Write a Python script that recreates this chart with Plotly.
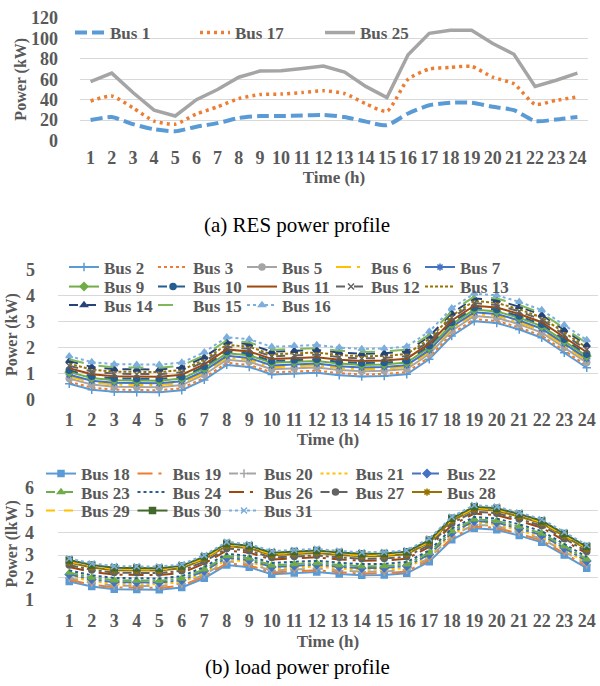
import plotly.graph_objects as go

W, H = 600, 686

hours = ["1", "2", "3", "4", "5", "6", "7", "8", "9", "10", "11", "12",
         "13", "14", "15", "16", "17", "18", "19", "20", "21", "22", "23", "24"]

# ---------- (a) RES power profile ----------
res_bus1 = [20, 23, 16, 11, 9, 13.5, 17, 22, 24, 24, 24.5, 25, 23, 18.5, 15, 26.5, 34.5, 37, 37, 33, 29.7, 19, 20.6, 23]
res_bus17 = [38.7, 43.5, 32, 19, 16, 26, 33, 41, 45, 45.5, 47, 48.7, 46, 36, 28.7, 60, 70, 71.6, 72.6, 62, 55.5, 35.5, 39.4, 42.6]
res_bus25 = [57.7, 66, 47, 29.7, 24, 40, 50, 62, 68, 68.4, 70.6, 73, 67, 53, 42, 84, 105, 108, 108, 95, 84.5, 53, 59, 66]

# ---------- (b) load power profile, upper panel ----------
load_b2 = [0.60, 0.37, 0.29, 0.27, 0.27, 0.35, 0.75, 1.33, 1.25, 0.96, 1.00, 1.03, 0.93, 0.88, 0.90, 0.97, 1.55, 2.45, 3.02, 2.95, 2.70, 2.38, 1.80, 1.22]
load_b3 = [0.68, 0.45, 0.37, 0.35, 0.35, 0.43, 0.83, 1.41, 1.33, 1.04, 1.08, 1.11, 1.01, 0.96, 0.98, 1.05, 1.63, 2.53, 3.10, 3.03, 2.78, 2.46, 1.88, 1.30]
load_b5 = [0.80, 0.57, 0.49, 0.47, 0.47, 0.55, 0.95, 1.53, 1.45, 1.16, 1.20, 1.23, 1.13, 1.08, 1.10, 1.17, 1.75, 2.65, 3.22, 3.15, 2.90, 2.58, 2.00, 1.42]
load_b6 = [0.88, 0.65, 0.57, 0.55, 0.55, 0.63, 1.03, 1.61, 1.53, 1.24, 1.28, 1.31, 1.21, 1.16, 1.18, 1.25, 1.83, 2.73, 3.30, 3.23, 2.98, 2.66, 2.08, 1.50]
load_b7 = [0.95, 0.72, 0.64, 0.62, 0.62, 0.70, 1.10, 1.68, 1.60, 1.31, 1.35, 1.38, 1.28, 1.23, 1.25, 1.32, 1.90, 2.80, 3.37, 3.30, 3.05, 2.73, 2.15, 1.57]
load_b9 = [1.05, 0.82, 0.74, 0.72, 0.72, 0.80, 1.20, 1.78, 1.70, 1.41, 1.45, 1.48, 1.38, 1.33, 1.35, 1.42, 2.00, 2.90, 3.47, 3.40, 3.15, 2.83, 2.25, 1.67]
load_b10 = [1.12, 0.89, 0.81, 0.79, 0.79, 0.87, 1.27, 1.85, 1.77, 1.48, 1.52, 1.55, 1.45, 1.40, 1.42, 1.49, 2.07, 2.97, 3.54, 3.47, 3.22, 2.90, 2.32, 1.74]
load_b11 = [1.20, 0.97, 0.89, 0.87, 0.87, 0.95, 1.35, 1.93, 1.85, 1.56, 1.60, 1.63, 1.53, 1.48, 1.50, 1.57, 2.15, 3.05, 3.62, 3.55, 3.30, 2.98, 2.40, 1.82]
load_b12 = [1.30, 1.07, 0.99, 0.97, 0.97, 1.05, 1.45, 2.03, 1.95, 1.66, 1.70, 1.73, 1.63, 1.58, 1.60, 1.67, 2.25, 3.15, 3.72, 3.65, 3.40, 3.08, 2.50, 1.92]
load_b13 = [1.38, 1.15, 1.07, 1.05, 1.05, 1.13, 1.53, 2.11, 2.03, 1.74, 1.78, 1.81, 1.71, 1.66, 1.68, 1.75, 2.33, 3.23, 3.80, 3.73, 3.48, 3.16, 2.58, 2.00]
load_b14 = [1.48, 1.25, 1.17, 1.15, 1.15, 1.23, 1.63, 2.21, 2.13, 1.84, 1.88, 1.91, 1.81, 1.76, 1.78, 1.85, 2.43, 3.33, 3.90, 3.83, 3.58, 3.26, 2.68, 2.10]
load_b15 = [1.55, 1.32, 1.24, 1.22, 1.22, 1.30, 1.70, 2.28, 2.20, 1.91, 1.95, 1.98, 1.88, 1.83, 1.85, 1.92, 2.50, 3.40, 3.97, 3.90, 3.65, 3.33, 2.75, 2.17]
load_b16 = [1.67, 1.44, 1.36, 1.34, 1.34, 1.42, 1.82, 2.40, 2.32, 2.03, 2.07, 2.10, 2.00, 1.95, 1.97, 2.04, 2.62, 3.52, 4.09, 4.02, 3.77, 3.45, 2.87, 2.29]

# ---------- (b) load power profile, lower panel ----------
load_b18 = [1.82, 1.60, 1.48, 1.47, 1.46, 1.56, 1.97, 2.56, 2.46, 2.15, 2.20, 2.25, 2.16, 2.10, 2.11, 2.19, 2.71, 3.68, 4.20, 4.13, 3.87, 3.57, 3.00, 2.42]
load_b19 = [1.90, 1.68, 1.56, 1.55, 1.54, 1.64, 2.05, 2.64, 2.54, 2.23, 2.28, 2.33, 2.24, 2.18, 2.19, 2.27, 2.79, 3.76, 4.28, 4.21, 3.95, 3.65, 3.08, 2.50]
load_b20 = [1.98, 1.76, 1.64, 1.63, 1.62, 1.72, 2.13, 2.72, 2.62, 2.31, 2.36, 2.41, 2.32, 2.26, 2.27, 2.35, 2.87, 3.84, 4.36, 4.29, 4.03, 3.73, 3.16, 2.58]
load_b21 = [2.06, 1.84, 1.72, 1.71, 1.70, 1.80, 2.21, 2.80, 2.70, 2.39, 2.44, 2.49, 2.40, 2.34, 2.35, 2.43, 2.95, 3.92, 4.44, 4.37, 4.11, 3.81, 3.24, 2.66]
load_b22 = [2.14, 1.92, 1.80, 1.79, 1.78, 1.88, 2.29, 2.88, 2.78, 2.47, 2.52, 2.57, 2.48, 2.42, 2.43, 2.51, 3.03, 4.00, 4.52, 4.45, 4.19, 3.89, 3.32, 2.74]
load_b23 = [2.22, 2.00, 1.88, 1.87, 1.86, 1.96, 2.37, 2.96, 2.86, 2.55, 2.60, 2.65, 2.56, 2.50, 2.51, 2.59, 3.11, 4.08, 4.60, 4.53, 4.27, 3.97, 3.40, 2.82]
load_b24 = [2.32, 2.10, 1.98, 1.97, 1.96, 2.06, 2.47, 3.06, 2.96, 2.65, 2.70, 2.75, 2.66, 2.60, 2.61, 2.69, 3.21, 4.18, 4.70, 4.63, 4.37, 4.07, 3.50, 2.92]
load_b26 = [2.47, 2.25, 2.13, 2.12, 2.11, 2.21, 2.62, 3.21, 3.11, 2.80, 2.85, 2.90, 2.81, 2.75, 2.76, 2.84, 3.36, 4.33, 4.85, 4.78, 4.52, 4.22, 3.65, 3.07]
load_b27 = [2.56, 2.34, 2.22, 2.21, 2.20, 2.30, 2.71, 3.30, 3.20, 2.89, 2.94, 2.99, 2.90, 2.84, 2.85, 2.93, 3.45, 4.42, 4.94, 4.87, 4.61, 4.31, 3.74, 3.16]
load_b28 = [2.67, 2.45, 2.33, 2.32, 2.31, 2.41, 2.82, 3.41, 3.31, 3.00, 3.05, 3.10, 3.01, 2.95, 2.96, 3.04, 3.56, 4.53, 5.05, 4.98, 4.72, 4.42, 3.85, 3.27]
load_b29 = [2.72, 2.50, 2.38, 2.37, 2.36, 2.46, 2.87, 3.46, 3.36, 3.05, 3.10, 3.15, 3.06, 3.00, 3.01, 3.09, 3.61, 4.58, 5.10, 5.03, 4.77, 4.47, 3.90, 3.32]
load_b30 = [2.78, 2.56, 2.44, 2.43, 2.42, 2.52, 2.93, 3.52, 3.42, 3.11, 3.16, 3.21, 3.12, 3.06, 3.07, 3.15, 3.67, 4.64, 5.16, 5.09, 4.83, 4.53, 3.96, 3.38]
load_b31 = [2.85, 2.63, 2.51, 2.50, 2.49, 2.59, 3.00, 3.59, 3.49, 3.18, 3.23, 3.28, 3.19, 3.13, 3.14, 3.22, 3.74, 4.71, 5.23, 5.16, 4.90, 4.60, 4.03, 3.45]

FONT = "Liberation Serif, Times New Roman, serif"
GREY = "#595959"
GRID = "#D9D9D9"

fig = go.Figure()

# (a)
fig.add_trace(go.Scatter(x=hours, y=res_bus1, name="Bus 1", mode="lines",
                         line=dict(color="#5B9BD5", width=4, dash="12px,5px", shape="spline", smoothing=0.6),
                         xaxis="x", yaxis="y", legend="legend"))
fig.add_trace(go.Scatter(x=hours, y=res_bus17, name="Bus 17", mode="lines",
                         line=dict(color="#ED7D31", width=3.5, dash="3px,4px", shape="spline", smoothing=0.6),
                         xaxis="x", yaxis="y", legend="legend"))
fig.add_trace(go.Scatter(x=hours, y=res_bus25, name="Bus 25", mode="lines",
                         line=dict(color="#A5A5A5", width=3.5),
                         xaxis="x", yaxis="y", legend="legend"))

# styles: (name, data, color, dash, marker symbol or None, legend)
mid_series = [
    ("Bus 2", load_b2, "#5B9BD5", "solid", "cross-thin-open", "legend2"),
    ("Bus 3", load_b3, "#ED7D31", "dot", None, "legend2"),
    ("Bus 5", load_b5, "#A5A5A5", "solid", "circle", "legend2"),
    ("Bus 6", load_b6, "#FFC000", "longdashdot", None, "legend2"),
    ("Bus 7", load_b7, "#4472C4", "solid", "asterisk-open", "legend2"),
    ("Bus 9", load_b9, "#70AD47", "solid", "diamond", "legend3"),
    ("Bus 10", load_b10, "#255E91", "dash", "circle", "legend3"),
    ("Bus 11", load_b11, "#9E480E", "solid", None, "legend3"),
    ("Bus 12", load_b12, "#636363", "dash", "x-thin-open", "legend3"),
    ("Bus 13", load_b13, "#997300", "3px,2px", None, "legend3"),
    ("Bus 14", load_b14, "#264478", "dash", "triangle-up", "legend4"),
    ("Bus 15", load_b15, "#7FB85A", "longdash", None, "legend4"),
    ("Bus 16", load_b16, "#7CAFDD", "dot", "triangle-up", "legend4"),
]
low_series = [
    ("Bus 18", load_b18, "#5B9BD5", "solid", "square", "legend5"),
    ("Bus 19", load_b19, "#ED7D31", "longdashdot", None, "legend5"),
    ("Bus 20", load_b20, "#A5A5A5", "dash", "cross-thin-open", "legend5"),
    ("Bus 21", load_b21, "#FFC000", "dot", None, "legend5"),
    ("Bus 22", load_b22, "#4472C4", "dashdot", "diamond", "legend5"),
    ("Bus 23", load_b23, "#70AD47", "dashdot", "triangle-up", "legend6"),
    ("Bus 24", load_b24, "#255E91", "dot", None, "legend6"),
    ("Bus 26", load_b26, "#9E480E", "longdashdot", None, "legend6"),
    ("Bus 27", load_b27, "#636363", "dashdot", "circle", "legend6"),
    ("Bus 28", load_b28, "#997300", "solid", "asterisk-open", "legend6"),
    ("Bus 29", load_b29, "#FFC000", "dash", None, "legend7"),
    ("Bus 30", load_b30, "#43682B", "solid", "square", "legend7"),
    ("Bus 31", load_b31, "#7CAFDD", "dot", "x-thin-open", "legend7"),
]


def add_series(series, xa, ya):
    for name, data, color, dash, sym, leg in series:
        if sym:
            mode = "lines+markers"
            marker = dict(symbol=sym, size=6, color=color, line=dict(width=1.5, color=color))
        else:
            mode = "lines"
            marker = None
        fig.add_trace(go.Scatter(x=hours, y=data, name=name, mode=mode,
                                 line=dict(color=color, width=2, dash=dash),
                                 marker=marker, xaxis=xa, yaxis=ya, legend=leg))


add_series(mid_series, "x2", "y2")
add_series(low_series, "x3", "y3")


def py(px):
    return 1 - px / H


tick_font = dict(family=FONT, size=18, color=GREY, weight="bold")
title_font = dict(family=FONT, size=17, color=GREY, weight="bold")
ytitle_font = dict(family=FONT, size=16, color=GREY, weight="bold")


def xaxis(domain, anchor, lbl_standoff, title_standoff):
    return dict(domain=domain, anchor=anchor, type="category", categoryorder="array",
                categoryarray=hours, range=[-0.5, 23.5], tickmode="array", tickvals=hours,
                ticktext=hours, showgrid=False, zeroline=False,
                showline=False, ticks="", tickfont=tick_font, tickangle=0, automargin=False,
                ticklabelstandoff=lbl_standoff,
                title=dict(text="Time (h)", font=title_font, standoff=title_standoff))


def yaxis(domain, anchor, rng, dtick, title, standoff_lbl, standoff_title):
    return dict(domain=domain, anchor=anchor, range=rng, dtick=dtick, showgrid=True,
                gridcolor=GRID, gridwidth=1, zeroline=False, showline=False, ticks="",
                tickfont=tick_font, automargin=False, ticklabelstandoff=standoff_lbl,
                title=dict(text=title, font=ytitle_font, standoff=standoff_title))


def legend(x_px, y_px, ew):
    return dict(orientation="h", x=x_px / W, y=py(y_px), xanchor="left", yanchor="middle",
                bgcolor="rgba(0,0,0,0)", borderwidth=0, itemwidth=30,
                entrywidth=ew, entrywidthmode="pixels", tracegroupgap=0,
                font=dict(family=FONT, size=17, color=GREY, weight="bold"),
                itemclick=False, itemdoubleclick=False)


fig.update_layout(
    width=W, height=H,
    margin=dict(l=0, r=0, t=0, b=0),
    paper_bgcolor="white", plot_bgcolor="white",
    xaxis=xaxis([80 / W, 588 / W], "y", 4, 4),
    yaxis=yaxis([py(140.5), py(18)], "x", [0, 120], 20, "Power (kW)", 21, 0),
    xaxis2=xaxis([58 / W, 598 / W], "y2", 8, 1),
    yaxis2=yaxis([py(399.3), py(270)], "x2", [0, 5], 1, "Power (kW)", 22, 4),
    xaxis3=xaxis([58 / W, 598 / W], "y3", 8, 5),
    yaxis3=yaxis([py(600), py(487.8)], "x3", [1, 6], 1, "Power (lkW)", 23, 3),
    legend=legend(70, 33, 80),
    legend2=legend(64, 267.5, 44),
    legend3=legend(64, 287, 44),
    legend4=legend(64, 305.5, 44),
    legend5=legend(41, 474, 46.5),
    legend6=legend(41, 492.5, 46.5),
    legend7=legend(41, 511, 46.5),
    annotations=[
        dict(text="(a) RES power profile", x=297 / W, y=py(225), xref="paper", yref="paper",
             showarrow=False, xanchor="center", yanchor="middle",
             font=dict(family=FONT, size=21, color="black")),
        dict(text="(b) load power profile", x=297 / W, y=py(667), xref="paper", yref="paper",
             showarrow=False, xanchor="center", yanchor="middle",
             font=dict(family=FONT, size=21, color="black")),
    ],
)

fig.write_html("out.html", config={"displayModeBar": False},
               post_script="document.body.style.margin='0';document.body.style.overflow='hidden';")
